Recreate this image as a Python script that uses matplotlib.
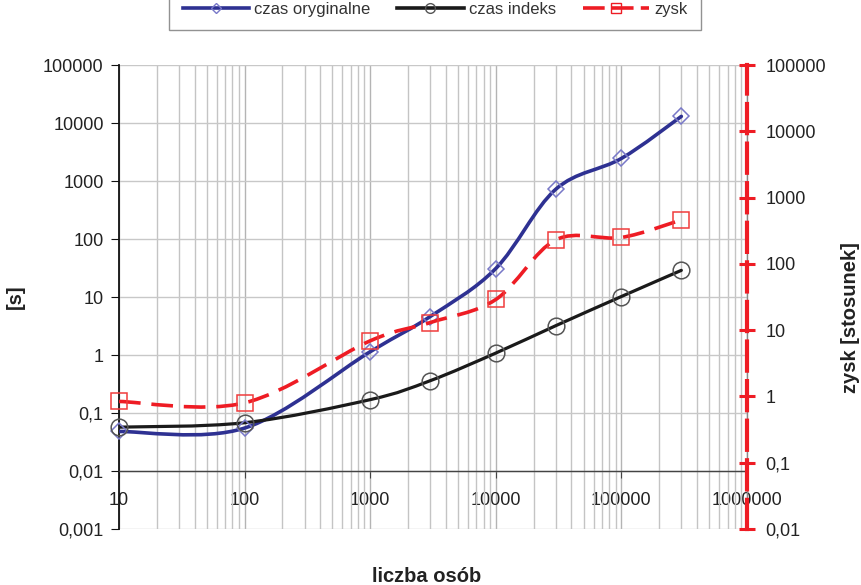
import numpy as np
import matplotlib
matplotlib.use('Agg')
import matplotlib.pyplot as plt
from matplotlib.path import Path
from matplotlib.patches import PathPatch
from matplotlib.lines import Line2D
from matplotlib.ticker import FixedLocator, FuncFormatter, LogLocator, NullFormatter

plt.rcParams['font.family'] = ['Liberation Sans', 'DejaVu Sans']

# dane
liczba_osob = [10, 100, 1000, 3000, 10000, 30000, 100000, 300000]
czas_oryginalne = [0.048, 0.055, 1.14, 4.6, 31, 720, 2450, 13000]
czas_indeks = [0.057, 0.068, 0.17, 0.36, 1.08, 3.2, 10.2, 28.8]
zysk = [0.84, 0.8, 6.9, 13, 29, 230, 250, 460]

x_ticks = [10, 100, 1000, 10000, 100000, 1000000]
left_ticks = [0.001, 0.01, 0.1, 1, 10, 100, 1000, 10000, 100000]
right_ticks = [0.01, 0.1, 1, 10, 100, 1000, 10000, 100000]

BLUE = '#2e3192'
BLACK = '#1a1a1a'
RED = '#ee1c24'


def smooth_path(xs, ys):
    # krzywe Beziera jak "wygładzona linia" w Excelu (liczone w skali log)
    lx = np.log10(xs)
    ly = np.log10(ys)
    pts = np.column_stack([lx, ly])
    n = len(pts)
    verts = [pts[0]]
    codes = [Path.MOVETO]
    for i in range(n - 1):
        p_prev = pts[i - 1] if i > 0 else pts[i]
        p_next2 = pts[i + 2] if i + 2 < n else pts[i + 1]
        c1 = pts[i] + (pts[i + 1] - p_prev) / 6
        c2 = pts[i + 1] - (p_next2 - pts[i]) / 6
        verts += [c1, c2, pts[i + 1]]
        codes += [Path.CURVE4] * 3
    verts = 10 ** np.array(verts)
    return Path(verts, codes)


def fmt(v, pos=None):
    if v >= 1:
        return str(int(round(v)))
    return f"{v:g}".replace('.', ',')


fig = plt.figure(figsize=(8.61, 5.85), dpi=100)
ax = fig.add_axes([119 / 861, 1 - 529 / 585, (747 - 119) / 861, (529 - 65) / 585])
ax.set_xscale('log')
ax.set_yscale('log')
ax.set_xlim(10, 1000000)
ax.set_ylim(0.001, 100000)

# siatka
ax.xaxis.set_major_locator(FixedLocator(x_ticks))
ax.xaxis.set_minor_locator(LogLocator(base=10, subs=np.arange(2, 10)))
ax.xaxis.set_minor_formatter(NullFormatter())
ax.xaxis.set_major_formatter(FuncFormatter(fmt))
ax.yaxis.set_major_locator(FixedLocator(left_ticks))
ax.yaxis.set_minor_locator(FixedLocator([]))
ax.yaxis.set_major_formatter(FuncFormatter(fmt))
ax.grid(True, which='major', axis='x', color='#b4b4b4', lw=1.0)
ax.grid(True, which='minor', axis='x', color='#c4c4c4', lw=1.0)
ax.grid(True, which='major', axis='y', color='#c8c8c8', lw=1.0)
ax.set_axisbelow(True)

ax.spines['top'].set_visible(False)
ax.spines['right'].set_color('#888888')
ax.spines['right'].set_linewidth(1.0)
ax.spines['left'].set_color('#111111')
ax.spines['left'].set_linewidth(1.3)
ax.spines['bottom'].set_position(('data', 0.01))
ax.spines['bottom'].set_color('#444444')
ax.spines['bottom'].set_linewidth(1.0)
ax.tick_params(axis='x', which='major', direction='out', length=5, color='#444444',
               labelsize=13, pad=10, labelcolor='#222222')
ax.tick_params(axis='x', which='minor', length=0)
ax.tick_params(axis='y', direction='out', length=6, color='#111111',
               labelsize=13, pad=5, labelcolor='#222222')

# serie na lewej osi
ax.add_patch(PathPatch(smooth_path(liczba_osob, czas_oryginalne), fill=False,
                       edgecolor=BLUE, lw=2.6, capstyle='round', zorder=3))
ax.add_patch(PathPatch(smooth_path(liczba_osob, czas_indeks), fill=False,
                       edgecolor=BLACK, lw=2.3, capstyle='round', zorder=3))
ax.plot(liczba_osob, czas_oryginalne, ls='none', marker='D', ms=8.5, mfc='none',
        mec='#7878c8', mew=1.1, zorder=4, clip_on=False)
ax.plot(liczba_osob, czas_indeks, ls='none', marker='o', ms=12, mfc='none',
        mec='#555555', mew=1.1, zorder=4, clip_on=False)

# prawa os - zysk
ax2 = ax.twinx()
ax2.set_yscale('log')
ax2.set_ylim(0.01, 100000)
ax2.set_xlim(10, 1000000)
ax2.yaxis.set_major_locator(FixedLocator(right_ticks))
ax2.yaxis.set_minor_locator(FixedLocator([]))
ax2.yaxis.set_major_formatter(FuncFormatter(fmt))
for s in ['top', 'left', 'bottom']:
    ax2.spines[s].set_visible(False)
ax2.spines['right'].set_color(RED)
ax2.spines['right'].set_linewidth(3.0)
ax2.spines['right'].set_linestyle((0, (7, 2.5)))
ax2.tick_params(axis='y', direction='inout', length=11, width=2.2, color=RED,
                labelsize=13, pad=8, labelcolor='#222222')

ax2.add_patch(PathPatch(smooth_path(liczba_osob, zysk), fill=False,
                        edgecolor=RED, lw=2.6, linestyle=(0, (6, 3)),
                        capstyle='butt', zorder=3))
ax2.plot(liczba_osob, zysk, ls='none', marker='s', ms=12, mfc='none',
         mec='#f03c3c', mew=1.1, zorder=4, clip_on=False)

# opisy osi
fig.text(15 / 861, 1 - 297 / 585, '[s]', rotation=90, ha='center', va='center',
         fontsize=14.5, fontweight='bold', color='#222222')
fig.text(851 / 861, 1 - 318 / 585, 'zysk [stosunek]', rotation=90, ha='center',
         va='center', fontsize=14.5, fontweight='bold', color='#222222')
fig.text(427 / 861, 1 - 576 / 585, 'liczba osób', ha='center', va='center',
         fontsize=14.5, fontweight='bold', color='#222222')

# legenda
handles = [
    Line2D([], [], color=BLUE, lw=2.6, marker='D', ms=5, mfc='none', mec='#7878c8'),
    Line2D([], [], color=BLACK, lw=2.6, marker='o', ms=7, mfc='none', mec='#555555'),
    Line2D([], [], color=RED, lw=2.6, ls=(0, (6, 2)), marker='s', ms=7, mfc='none', mec=RED),
]
leg = fig.legend(handles, ['czas oryginalne', 'czas indeks', 'zysk'],
                 loc='lower center', bbox_to_anchor=(435 / 861, 1 - 30 / 585),
                 ncol=3, frameon=True, fancybox=False, fontsize=12,
                 handlelength=4.0, columnspacing=1.6, handletextpad=0.3,
                 borderpad=0.8, borderaxespad=0)
leg.get_frame().set_edgecolor('#777777')
leg.get_frame().set_linewidth(1.0)
for t in leg.get_texts():
    t.set_color('#333333')

fig.savefig('out.png', dpi=100)
